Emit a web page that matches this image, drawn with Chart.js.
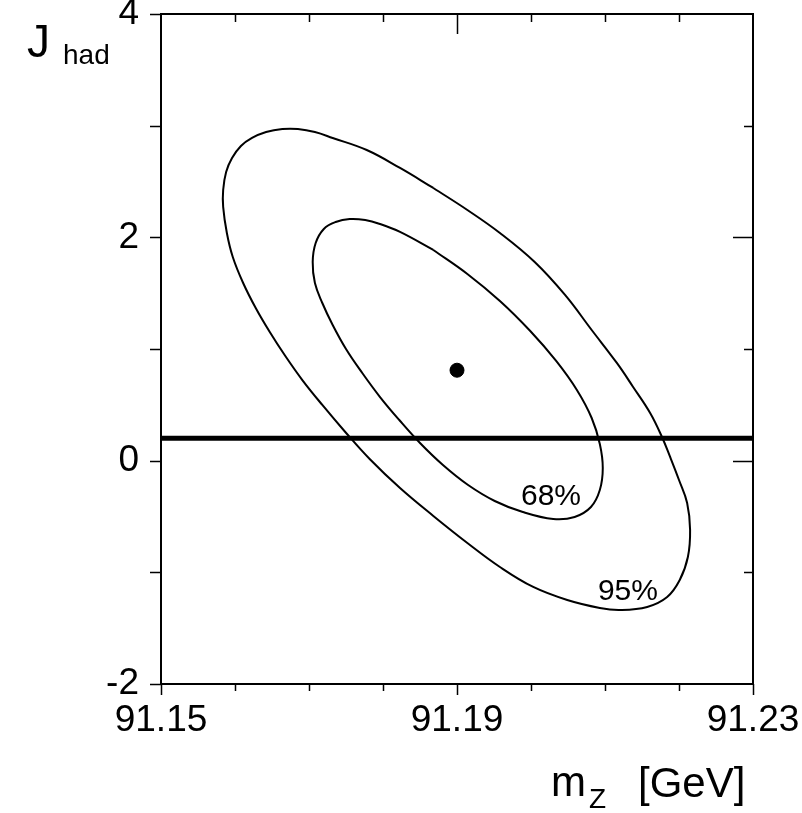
<!DOCTYPE html>
<html>
<head>
<meta charset="utf-8">
<script src="https://cdn.jsdelivr.net/npm/chart.js@4.4.1/dist/chart.umd.min.js"></script>
<style>
  body { margin: 0; background: #fff; }
  #wrap { width: 802px; height: 813px; }
</style>
</head>
<body>
<div id="wrap"><canvas id="contourChart" width="802" height="813"></canvas></div>
<script>
// 95% CL contour (m_Z in GeV, J_had), traced clockwise
const mzOuter = [91.1868, 91.1914, 91.1958, 91.2005, 91.2046, 91.2082, 91.2116, 91.2138, 91.2161, 91.2177,
    91.2188, 91.2200, 91.2211, 91.2215, 91.2212, 91.2201, 91.2184, 91.2157, 91.2120, 91.2093,
    91.2049, 91.2003, 91.1958, 91.1914, 91.1868, 91.1823, 91.1782, 91.1749, 91.1718, 91.1691,
    91.1668, 91.1647, 91.1628, 91.1611, 91.1597, 91.1589, 91.1584, 91.1584, 91.1588, 91.1596,
    91.1608, 91.1623, 91.1642, 91.1664, 91.1685, 91.1708, 91.1732, 91.1778, 91.1823, 91.1868];
const jOuter = [2.442, 2.245, 2.039, 1.779, 1.484, 1.170, 0.875, 0.660, 0.427, 0.212,
    0.033, -0.173, -0.379, -0.621, -0.863, -1.069, -1.221, -1.310, -1.337, -1.319,
    -1.248, -1.131, -0.952, -0.737, -0.495, -0.245, 0.015, 0.257, 0.499, 0.722,
    0.937, 1.152, 1.367, 1.591, 1.824, 2.039, 2.272, 2.424, 2.585, 2.710,
    2.818, 2.890, 2.943, 2.970, 2.970, 2.943, 2.890, 2.782, 2.621, 2.442];

// 68% CL contour
const mzInner = [91.1868, 91.1914, 91.1958, 91.1999, 91.2034, 91.2062, 91.2082, 91.2093, 91.2097, 91.2093,
    91.2081, 91.2059, 91.2030, 91.1989, 91.1951, 91.1915, 91.1881, 91.1850, 91.1822, 91.1796,
    91.1772, 91.1750, 91.1732, 91.1718, 91.1708, 91.1705, 91.1709, 91.1720, 91.1736, 91.1755,
    91.1776, 91.1796, 91.1823, 91.1868];
const jInner = [1.887, 1.672, 1.430, 1.161, 0.893, 0.633, 0.382, 0.149, -0.066, -0.263,
    -0.415, -0.504, -0.522, -0.460, -0.361, -0.218, -0.039, 0.158, 0.364, 0.570,
    0.785, 1.000, 1.215, 1.412, 1.591, 1.779, 1.949, 2.075, 2.137, 2.164,
    2.155, 2.119, 2.048, 1.887];

// best fit point and the horizontal band value
const bestFit = { mz: 91.19, j: 0.81 };
const jLine = 0.20;

// contour labels
const clLabels = ['68%', '95%'];
const clLabelMz = [91.2027, 91.2131];
const clLabelJ = [-0.325, -1.176];

// axis ticks
const xTickVals = [91.15, 91.16, 91.17, 91.18, 91.19, 91.20, 91.21, 91.22, 91.23];
const xTickLabels = ['91.15', '91.19', '91.23'];
const yTickVals = [-2, -1, 0, 1, 2, 3, 4];
const yTickLabels = ['-2', '0', '2', '4'];

const FONT = '"Liberation Sans", Arial, Helvetica, sans-serif';

function toPoints(xs, ys) {
    return xs.map((x, i) => ({ x: x, y: ys[i] }));
}

// frame, tick marks, contour labels and axis titles
const framePlugin = {
    id: 'frame',
    afterDatasetsDraw(chart) {
        const ctx = chart.ctx;
        const a = chart.chartArea;
        const xs = chart.scales.x, ys = chart.scales.y;
        ctx.save();
        ctx.strokeStyle = '#000';
        ctx.lineWidth = 2;
        ctx.strokeRect(a.left, a.top, a.right - a.left, a.bottom - a.top);

        ctx.lineWidth = 1.5;
        ctx.beginPath();
        xTickVals.forEach(v => {
            const px = Math.round(xs.getPixelForValue(v)) + 0.5;
            const labelled = xTickLabels.includes(v.toFixed(2));
            // bottom: outward
            ctx.moveTo(px, a.bottom);
            ctx.lineTo(px, a.bottom + (labelled ? 11 : 7));
            // top: inward
            if (v > 91.15 && v < 91.23) {
                ctx.moveTo(px, a.top);
                ctx.lineTo(px, a.top + (labelled ? 20 : 8));
            }
        });
        yTickVals.forEach(v => {
            const py = Math.round(ys.getPixelForValue(v)) + 0.5;
            const labelled = yTickLabels.includes(String(v));
            // left: outward
            ctx.moveTo(a.left - 11, py);
            ctx.lineTo(a.left, py);
            // right: inward
            if (v > -2 && v < 4) {
                ctx.moveTo(a.right, py);
                ctx.lineTo(a.right - (labelled ? 20 : 9), py);
            }
        });
        ctx.stroke();

        ctx.fillStyle = '#000';
        ctx.font = '30px ' + FONT;
        ctx.textAlign = 'center';
        ctx.textBaseline = 'middle';
        clLabels.forEach((t, i) => {
            ctx.fillText(t, xs.getPixelForValue(clLabelMz[i]), ys.getPixelForValue(clLabelJ[i]));
        });

        ctx.textAlign = 'left';
        ctx.textBaseline = 'alphabetic';
        ctx.font = '46px ' + FONT;
        ctx.fillText('J', 27, 57);
        ctx.font = '28px ' + FONT;
        ctx.fillText('had', 63, 64);

        ctx.font = '42px ' + FONT;
        ctx.fillText('m', 551, 796);
        ctx.fillText('[GeV]', 638, 797);
        ctx.font = '28px ' + FONT;
        ctx.fillText('Z', 589, 808);
        ctx.restore();
    }
};

const ctx = document.getElementById('contourChart').getContext('2d');
const chart = new Chart(ctx, {
    type: 'scatter',
    data: {
        datasets: [
            {
                data: toPoints(mzOuter, jOuter),
                showLine: true,
                tension: 0.4,
                borderColor: '#000',
                borderWidth: 2,
                pointRadius: 0,
                fill: false
            },
            {
                data: toPoints(mzInner, jInner),
                showLine: true,
                tension: 0.4,
                borderColor: '#000',
                borderWidth: 2,
                pointRadius: 0,
                fill: false
            },
            {
                data: [{ x: xTickVals[0], y: jLine }, { x: xTickVals[xTickVals.length - 1], y: jLine }],
                showLine: true,
                borderColor: '#000',
                borderWidth: 5,
                pointRadius: 0
            },
            {
                data: [{ x: bestFit.mz, y: bestFit.j }],
                pointRadius: 7,
                pointBackgroundColor: '#000',
                pointBorderColor: '#000'
            }
        ]
    },
    options: {
        responsive: false,
        animation: false,
        events: [],
        layout: { padding: { left: 0, right: 49, top: 14, bottom: 0 } },
        plugins: {
            legend: { display: false },
            tooltip: { enabled: false }
        },
        scales: {
            x: {
                type: 'linear',
                min: 91.15,
                max: 91.23,
                grid: { display: false },
                border: { display: false },
                afterBuildTicks: scale => {
                    scale.ticks = xTickVals.map(v => ({ value: v }));
                },
                afterFit: scale => {
                    scale.height = 129;
                    scale.paddingLeft = 0;
                    scale.paddingRight = 0;
                },
                ticks: {
                    autoSkip: false,
                    maxRotation: 0,
                    padding: 7,
                    color: '#000',
                    font: { family: FONT, size: 37 },
                    callback: v => {
                        const s = v.toFixed(2);
                        return xTickLabels.includes(s) ? s : '';
                    }
                }
            },
            y: {
                type: 'linear',
                min: -2,
                max: 4,
                grid: { display: false },
                border: { display: false },
                afterBuildTicks: scale => {
                    scale.ticks = yTickVals.map(v => ({ value: v }));
                },
                afterFit: scale => {
                    scale.width = 161;
                    scale.paddingTop = 0;
                    scale.paddingBottom = 0;
                },
                ticks: {
                    autoSkip: false,
                    padding: 14,
                    color: '#000',
                    font: { family: FONT, size: 37 },
                    callback: v => yTickLabels.includes(String(v)) ? String(v) : ''
                }
            }
        }
    },
    plugins: [framePlugin]
});
</script>
</body>
</html>
